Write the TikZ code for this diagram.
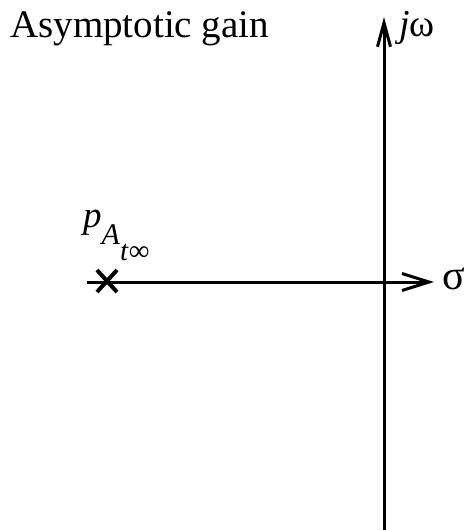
\documentclass[tikz,border=0pt]{standalone}
\usepackage{fontspec}
\setmainfont{Liberation Serif}
\usetikzlibrary{
  positioning,
  arrows.meta,
  calc,
}
\definecolor{border}{HTML}{000000}
\tikzset{
  axisline/.style={border, line width=3pt},
  harrow/.style={axisline, -{Straight Barb[length=27pt, width=17pt]}},
  varrow/.style={axisline, -{Straight Barb[length=24pt, width=13pt]}},
  polemark/.style={border, line width=4pt},
  label/.style={inner sep=0pt, text=border},
}

\begin{document}
\begin{tikzpicture}[x=1pt, y=-1pt]

  \useasboundingbox (0, 0) rectangle (467, 530);

  \node[label, anchor=base west, font=\fontsize{39}{41}\selectfont] (title) at (10, 37) {Asymptotic gain};

  % Axes
  \coordinate (origin) at (384, 282);
  \coordinate (left) at (87, 282);
  \coordinate (right) at (434, 282);
  \coordinate (bottom) at (384, 530);
  \coordinate (top) at (384, 17);

  \draw[harrow] (left) -- (right);
  \draw[varrow] (bottom) -- (top);

  \node[label, anchor=base west, font=\fontsize{38}{40}\selectfont] (jw) at (399, 36) {\textit{j}ω};
  \node[label, anchor=west, font=\fontsize{42}{44}\selectfont] (sigma) at (442, 279) {σ};

  % Pole
  \coordinate (pole) at (107, 281);
  \draw[polemark] ($(pole)+(-10,-11)$) -- ($(pole)+(10,11)$);
  \draw[polemark] ($(pole)+(-10,11)$) -- ($(pole)+(10,-11)$);

  \node[label, anchor=base west, font=\fontsize{37}{39}\selectfont] (plabel) at (83, 227)
    {\textit{p}\raisebox{-17pt}{\fontsize{30}{32}\selectfont\textit{A}\raisebox{-16pt}{\fontsize{29}{31}\selectfont\textit{t}∞}}};

\end{tikzpicture}
\end{document}
